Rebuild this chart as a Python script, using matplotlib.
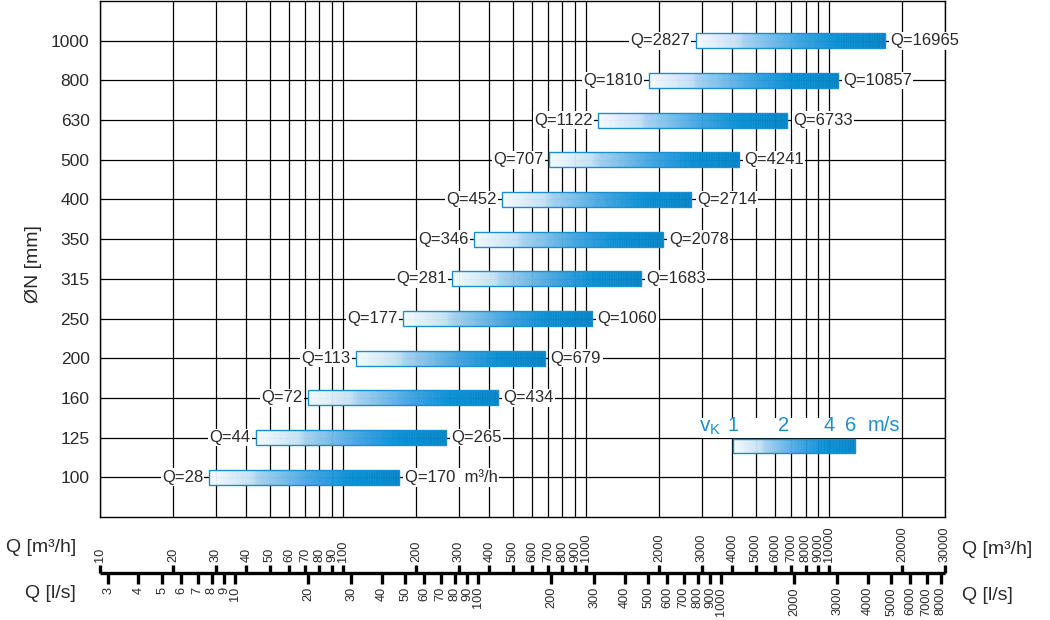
import numpy as np
import matplotlib
matplotlib.use('Agg')
import matplotlib.pyplot as plt
from matplotlib.colors import LinearSegmentedColormap
from matplotlib.patches import Rectangle

plt.rcParams['font.family'] = ['Liberation Sans', 'DejaVu Sans']

# DN rows (bottom to top) and flow range in m3/h
dn_list = [100, 125, 160, 200, 250, 315, 350, 400, 500, 630, 800, 1000]
q_min = [28, 44, 72, 113, 177, 281, 346, 452, 707, 1122, 1810, 2827]
q_max = [170, 265, 434, 679, 1060, 1683, 2078, 2714, 4241, 6733, 10857, 16965]

# bottom scales
m3h_ticks = [10, 20, 30, 40, 50, 60, 70, 80, 90, 100, 200, 300, 400, 500, 600, 700, 800, 900, 1000,
             2000, 3000, 4000, 5000, 6000, 7000, 8000, 9000, 10000, 20000, 30000]
ls_ticks = [3, 4, 5, 6, 7, 8, 9, 10, 20, 30, 40, 50, 60, 70, 80, 90, 100, 200, 300, 400, 500, 600, 700,
            800, 900, 1000, 2000, 3000, 4000, 5000, 6000, 7000, 8000]

# speed legend
v_labels = ['1', '2', '4', '6']
v_pos = [4027, 6470, 10000, 12320]
leg_range = [4027, 12800]

text_color = '#2a2a2a'
blue_text = '#1f8fcc'
edge_blue = '#1a8fd0'
cmap = LinearSegmentedColormap.from_list('pipe', [(0, '#f4fafe'), (0.22, '#c4e1f4'), (0.25, '#a8d3f0'),
                                                  (0.55, '#3ea3e0'), (0.75, '#0b8fd3'), (1, '#0684c6')])
W, H = 1050, 620


def gradient_bar(ax, y, lo, hi, h):
    edges = np.geomspace(lo, hi, 81)
    cols = cmap(np.linspace(0, 1, 80))
    ax.barh([y] * 80, np.diff(edges), left=edges[:-1], height=h, color=cols,
            edgecolor=cols, linewidth=0.4, zorder=2)
    ax.barh(y, hi - lo, left=lo, height=h, fill=False, edgecolor=edge_blue, linewidth=1.0, zorder=3)


fig = plt.figure(figsize=(W / 100, H / 100), dpi=100, facecolor='white')
ax = fig.add_axes([100 / W, 103 / H, 845 / W, 516 / H])
ax.set_xscale('log')
ax.set_xlim(10, 30000)
ax.set_ylim(-1, 12)

ax.set_xticks(m3h_ticks)
ax.xaxis.set_minor_locator(matplotlib.ticker.NullLocator())
ax.tick_params(axis='x', length=0, labelbottom=False)
ax.set_yticks(range(len(dn_list)))
ax.set_yticklabels([str(d) for d in dn_list])
ax.tick_params(axis='y', length=0, pad=7.5, labelsize=12.5, labelcolor=text_color)
ax.grid(True, color='black', linewidth=0.9)
ax.set_axisbelow(True)
for sp in ax.spines.values():
    sp.set_linewidth(1.0)

ax.set_ylabel('ØN [mm]', fontsize=14, color=text_color)
ax.yaxis.set_label_coords(-0.069, 0.49)

box = dict(facecolor='white', edgecolor='none', pad=1)
for i in range(len(dn_list)):
    gradient_bar(ax, i, q_min[i], q_max[i], 0.38)
    ax.annotate('Q=%d' % q_min[i], (q_min[i], i), xytext=(-4, 0), textcoords='offset points',
                ha='right', va='center', fontsize=12, color=text_color, bbox=box, zorder=4)
    right = 'Q=%d' % q_max[i]
    if i == 0:
        right += '  m³/h'
    ax.annotate(right, (q_max[i], i), xytext=(4, 0), textcoords='offset points',
                ha='left', va='center', fontsize=12, color=text_color, bbox=box, zorder=4)

# legend for speed (white patch behind the text)
ax.add_patch(Rectangle((2950, 1.0), 19600 - 2950, 0.5, facecolor='white', edgecolor='none', zorder=1.5))
gradient_bar(ax, 0.8, leg_range[0], leg_range[1], 0.35)
for lab, xv in zip(v_labels, v_pos):
    ax.text(xv, 1.3, lab, ha='center', va='center', fontsize=14.5, color=blue_text, zorder=4)
ax.text(14450, 1.3, 'm/s', ha='left', va='center', fontsize=14.5, color=blue_text, zorder=4)
ax.text(3600, 1.25, r'v$_\mathregular{K}$', ha='right', va='center', fontsize=15, color=blue_text,
        zorder=4)

# bottom double scale
ax2 = fig.add_axes([100 / W, 0, 845 / W, 103 / H])
ax2.set_xscale('log')
ax2.set_xlim(10, 30000)
ax2.set_ylim(620, 517)
ax2.axis('off')
ax2.hlines(573, 10, 30000, color='black', linewidth=2.4, clip_on=False)
ax2.vlines(m3h_ticks, 565, 573, color='black', linewidth=2.4, clip_on=False)
ls_m3h = [v * 3.6 for v in ls_ticks]
ax2.vlines(ls_m3h, 573, 584, color='black', linewidth=2.4, clip_on=False)
for v in m3h_ticks:
    ax2.text(v, 562, str(v), rotation=90, ha='center', va='bottom', fontsize=9.2, color=text_color,
             clip_on=False)
for v, xv in zip(ls_ticks, ls_m3h):
    ax2.text(xv, 587, str(v), rotation=90, ha='center', va='top', fontsize=9.2, color=text_color,
             clip_on=False)

fig.text(76 / W, 1 - 548 / H, 'Q [m³/h]', ha='right', va='center', fontsize=14, color=text_color)
fig.text(76 / W, 1 - 593 / H, 'Q [l/s]', ha='right', va='center', fontsize=14, color=text_color)
fig.text(962 / W, 1 - 550 / H, 'Q [m³/h]', ha='left', va='center', fontsize=14, color=text_color)
fig.text(962 / W, 1 - 595 / H, 'Q [l/s]', ha='left', va='center', fontsize=14, color=text_color)

fig.savefig('out.png', dpi=100, facecolor='white')
